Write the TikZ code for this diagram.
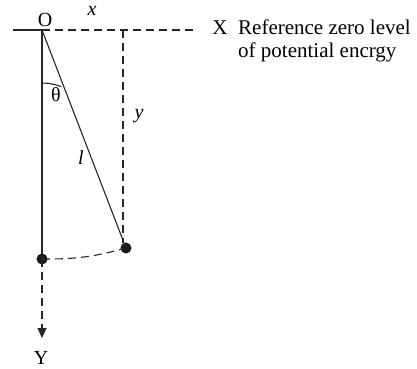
\documentclass[tikz,border=0pt]{standalone}
\usepackage{fontspec}
\setmainfont{Liberation Serif}
\usetikzlibrary{arrows.meta,calc}
\begin{document}
\begin{tikzpicture}[x=1pt,y=-1pt,
  solidline/.style={line width=1.5pt,draw=black!85},
  thinline/.style={line width=1.1pt,draw=black!85},
  dashline/.style={line width=1.1pt,draw=black!85,dash pattern=on 8pt off 5pt},
  dot/.style={circle,fill=black!90,inner sep=0pt,minimum size=11pt},
  lbl/.style={font=\fontsize{20}{23}\selectfont,inner sep=0pt},
  reflbl/.style={font=\fontsize{21}{23}\selectfont,inner sep=0pt}]
\useasboundingbox (0,0) rectangle (417,368);
\coordinate (left) at (13,30);
\coordinate (O) at (42,30);
\coordinate (dashend) at (197,30);
\coordinate (top) at (123,30);
\coordinate (vend) at (123,243);
\node[dot] (low) at (42,259) {};
\node[dot] (bob) at (126,248) {};
\coordinate (tip) at (42,338);
% lines
\draw[solidline] (left) -- (O);
\draw[dashline] (O) -- (dashend);
\draw[dashline] (top) -- (vend);
\draw[solidline] (O) -- (low.center);
\draw[thinline] (O) -- (bob.center);
\draw[dashline] (low.center) to[bend right=8] (bob.center);
\draw[dashline,-{Triangle[length=10pt,width=9pt]}] (low.center) -- (tip);
% theta arc
\draw[thinline] ($(O)+(0,53)$) arc[start angle=-90,end angle={-90+21.4},radius=53];
% labels
\node[lbl,anchor=base] (Olab) at (45,26) {O};
\node[lbl,anchor=base,font=\fontsize{20}{23}\selectfont\itshape] (xlab) at (92,15) {x};
\node[lbl] (th) at (56,95) {θ};
\node[lbl,font=\fontsize{20}{23}\selectfont\itshape] (ylab) at (139,116) {y};
\node[lbl,font=\fontsize{20}{23}\selectfont\itshape] (llab) at (81,158) {l};
\node[lbl,anchor=base] (Ylab) at (41,364) {Y};
\node[reflbl,anchor=base] (Xlab) at (220,34) {X};
\node[reflbl,anchor=base west] (ref) at (238,34) {Reference zero level};
\node[reflbl,anchor=base west] (ref2) at (238,57) {of potential encrgy};
\end{tikzpicture}
\end{document}
